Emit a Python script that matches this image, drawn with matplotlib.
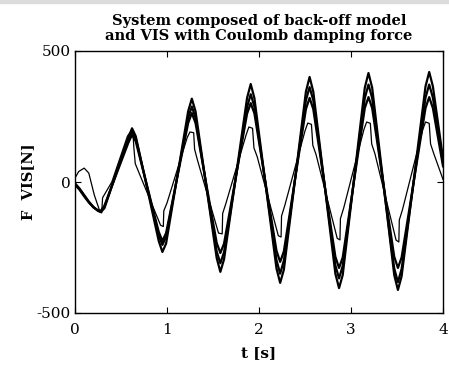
import matplotlib
matplotlib.use("Agg")
import matplotlib.pyplot as plt
from matplotlib.patches import Rectangle

# time grid shared by the three heavy curves
t_main = [0, 0.05, 0.10, 0.15, 0.20, 0.25, 0.28, 0.32,
          0.58, 0.62, 0.66, 0.91, 0.95, 0.99,
          1.23, 1.27, 1.31, 1.54, 1.58, 1.62,
          1.87, 1.91, 1.95, 2.19, 2.23, 2.27,
          2.51, 2.55, 2.59, 2.83, 2.87, 2.91,
          3.15, 3.19, 3.23, 3.47, 3.51, 3.55,
          3.81, 3.85, 3.89, 4.0]

f_vis1 = [-5, -25, -50, -75, -95, -110, -115, -100,
          170, 205, 175, -225, -267, -235,
          270, 318, 270, -290, -343, -295,
          320, 374, 320, -330, -385, -335,
          345, 401, 345, -350, -405, -355,
          360, 416, 360, -355, -412, -360,
          365, 420, 365, 90]

f_vis2 = [-8, -28, -52, -76, -96, -110, -113, -95,
          165, 195, 168, -205, -240, -210,
          245, 288, 245, -265, -310, -268,
          285, 335, 288, -298, -350, -300,
          312, 362, 312, -318, -368, -320,
          320, 372, 320, -330, -382, -332,
          322, 372, 322, 75]

f_vis3 = [-10, -30, -55, -78, -97, -108, -110, -90,
          150, 180, 155, -190, -225, -195,
          225, 263, 225, -232, -271, -235,
          260, 301, 262, -262, -305, -265,
          278, 321, 278, -285, -328, -288,
          282, 324, 282, -285, -328, -288,
          282, 324, 282, 60]

# thin curve with the stick-slip kinks
t_thin = [0, 0.04, 0.10, 0.15, 0.21, 0.27, 0.29, 0.30, 0.40,
          0.57, 0.60, 0.63, 0.64, 0.655,
          0.93, 0.96, 0.965, 1.0,
          1.22, 1.25, 1.29, 1.30, 1.33,
          1.56, 1.60, 1.605, 1.64,
          1.86, 1.89, 1.93, 1.945, 1.98,
          2.21, 2.24, 2.245, 2.28,
          2.50, 2.53, 2.57, 2.585, 2.62,
          2.85, 2.88, 2.885, 2.92,
          3.14, 3.17, 3.21, 3.225, 3.26,
          3.49, 3.52, 3.525, 3.56,
          3.78, 3.81, 3.85, 3.865, 3.90,
          4.0]
f_thin = [15, 40, 53, 34, -50, -112, -118, -60, 0,
          175, 190, 188, 130, 70,
          -165, -170, -110, -80,
          170, 191, 188, 125, 85,
          -195, -198, -120, -82,
          180, 210, 205, 130, 97,
          -205, -210, -130, -90,
          195, 225, 220, 140, 105,
          -215, -221, -140, -100,
          200, 229, 224, 145, 108,
          -222, -229, -145, -105,
          200, 229, 224, 145, 108,
          10]

plt.rcParams['font.family'] = ['DejaVu Serif']
plt.rcParams['axes.unicode_minus'] = False

fig = plt.figure(figsize=(4.49, 3.71), dpi=100)
fig.patches.append(Rectangle((0, 1 - 3 / 371.), 1, 3 / 371., transform=fig.transFigure,
                             color="#dcdcdc", zorder=0))
ax = fig.add_axes([75 / 449., 1 - 313 / 371., 368 / 449., 262 / 371.])

for fv in (f_vis1, f_vis2, f_vis3):
    ax.plot(t_main, fv, color="black", lw=1.6)
ax.plot(t_thin, f_thin, color="black", lw=0.9)

ax.set_xlim(0, 4)
ax.set_ylim(-500, 500)
ax.set_xticks([0, 1, 2, 3, 4])
ax.set_yticks([-500, 0, 500])
ax.tick_params(direction="in", length=4, top=True, right=True, labelsize=11)
ax.tick_params(axis="x", pad=7)
ax.tick_params(axis="y", pad=3)
for s in ax.spines.values():
    s.set_linewidth(1.0)

ax.set_title("System composed of back-off model\nand VIS with Coulomb damping force",
             fontsize=10.5, fontweight="bold", linespacing=1.1, pad=8)
ax.set_xlabel("t [s]", fontsize=11, fontweight="bold", labelpad=7)
ax.set_ylabel("F  VIS[N]", fontsize=10.5, fontweight="bold", labelpad=1)

fig.savefig("out.png", dpi=100)
